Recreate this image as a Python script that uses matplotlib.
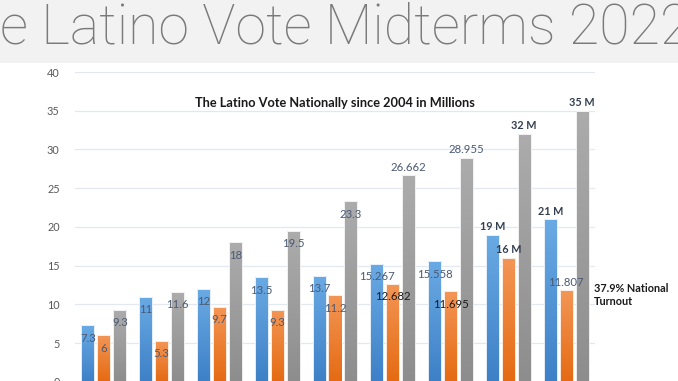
import numpy as np
import matplotlib as mpl
import matplotlib.pyplot as plt
from matplotlib.colors import LinearSegmentedColormap

plt.rcParams["font.family"] = ["Lato", "DejaVu Sans"]

# data: blue, orange, gray series per election (values in millions)
blue_vals = [7.3, 11, 12, 13.5, 13.7, 15.267, 15.558, 19, 21]
orange_vals = [6, 5.3, 9.7, 9.3, 11.2, 12.682, 11.695, 16, 11.807]
gray_vals = [9.3, 11.6, 18, 19.5, 23.3, 26.662, 28.955, 32, 35]

blue_labels = ["7.3", "11", "12", "13.5", "13.7", "15.267", "15.558", "19 M", "21 M"]
orange_labels = ["6", "5.3", "9.7", "9.3", "11.2", "12.682", "11.695", "16 M", "11.807"]
gray_labels = ["9.3", "11.6", "18", "19.5", "23.3", "26.662", "28.955", "32 M", "35 M"]

# label placement: inside end / outside end
blue_pos = ["in"] * 7 + ["out", "out"]
orange_pos = ["in"] * 7 + ["out", "out"]
gray_pos = ["in"] * 5 + ["out"] * 4

yticks = [0, 5, 10, 15, 20, 25, 30, 35, 40]

fig = plt.figure(figsize=(6.78, 3.81), dpi=100)

# slide title band
fig.patches.append(mpl.patches.Rectangle((0, 0.835), 1, 0.165, transform=fig.transFigure,
                                          facecolor="#f2f2f2", edgecolor="none", zorder=0))
fig.text(0.0, 0.885, "e Latino Vote Midterms 2022", fontsize=40, fontweight="light",
         family=["Roboto", "Lato"], color="#7a7a7a", ha="left", va="baseline")

ax = fig.add_axes([0.1106, -0.002, 0.767, 0.813])
ax.set_facecolor("none")
ax.set_ylim(0, 40)
ax.set_xlim(-0.5, 8.5)
ax.set_yticks(yticks)
ax.set_xticks([])
for s in ax.spines.values():
    s.set_visible(False)
ax.tick_params(axis="y", length=0, pad=11, labelsize=7.8, labelcolor="#595959")
ax.yaxis.grid(True, color="#e3e8f0", lw=0.9)
ax.set_axisbelow(True)

x = np.arange(len(blue_vals))
w = 0.225
off = 0.275

series = [
    (blue_vals, blue_labels, blue_pos, -off, ("#6aaae4", "#3d80c6")),
    (orange_vals, orange_labels, orange_pos, 0.0, ("#f39656", "#e56a12")),
    (gray_vals, gray_labels, gray_pos, off, ("#acacac", "#8d8d8d")),
]

grad = np.linspace(1, 0, 256).reshape(-1, 1)
for vals, labels, pos, dx, (ctop, cbot) in series:
    bars = ax.bar(x + dx, vals, width=w, color="none", edgecolor="white", lw=0.6, zorder=3)
    cmap = LinearSegmentedColormap.from_list("g", [cbot, ctop])
    for b in bars:
        bx, by, bw, bh = b.get_x(), b.get_y(), b.get_width(), b.get_height()
        im = ax.imshow(grad, cmap=cmap, extent=[bx, bx + bw, by, by + bh],
                       aspect="auto", zorder=2, vmin=0, vmax=1)
        im.set_clip_path(b)
    for b, lab, p in zip(bars, labels, pos):
        cx = b.get_x() + b.get_width() / 2
        top = b.get_height()
        bold = lab.endswith("M")
        if lab in ("12.682", "11.695"):
            col = "#1a1a1a"
        elif bold:
            col = "#333f50"
        else:
            col = "#4a5a74"
        dy = -13 if p == "in" else 8
        ax.annotate(lab, (cx, top), xytext=(0, dy), textcoords="offset pixels",
                    ha="center", va="center", fontsize=8.2 if not bold else 7.8, color=col,
                    fontweight="bold" if bold else "normal", zorder=5,
                    annotation_clip=False)

ax.text(0.5, 0.9, "The Latino Vote Nationally since 2004 in Millions", transform=ax.transAxes,
        ha="center", va="center", fontsize=9.2, fontweight="bold", color="#1a1a1a")

last = x[-1] + off + w / 2
ax.annotate("37.9% National\nTurnout", (last, 11.2), xytext=(5, 0), textcoords="offset pixels",
            ha="left", va="center", fontsize=7.8, fontweight="bold", color="#1a1a1a",
            linespacing=1.3, annotation_clip=False)

fig.savefig("out.png", dpi=100)
